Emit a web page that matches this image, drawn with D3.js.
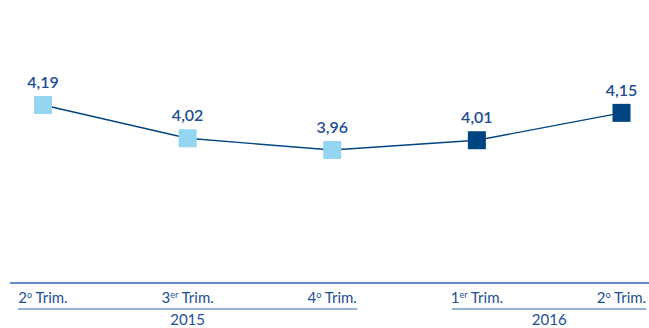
<!DOCTYPE html>
<html>
<head>
<meta charset="utf-8">
<script src="https://cdn.jsdelivr.net/npm/d3@7"></script>
<style>
  body { margin: 0; background: #fff; }
  text { font-family: Lato, "Open Sans", sans-serif; fill: #1c4f94; }
</style>
</head>
<body>
<div id="chart"></div>
<script>
// data
const quarters = ["2º Trim.", "3er Trim.", "4º Trim.", "1er Trim.", "2º Trim."];
const years = ["2015", "2015", "2015", "2016", "2016"];
const values = [4.19, 4.02, 3.96, 4.01, 4.15];
const yearGroups = [
    {year: "2015", from: 0, to: 2},
    {year: "2016", from: 3, to: 4}
];

const width = 649, height = 328;
const navy = "#004481", light = "#94d6f1";

let svg = d3.select("#chart").append("svg")
    .attr("width", width)
    .attr("height", height);

let x = d3.scalePoint()
    .domain(d3.range(values.length))
    .range([43, 621.5]);

let y = d3.scaleLinear()
    .domain([3.5, 4.5])
    .range([240, 44.4]);

let fmt = v => d3.format(".2f")(v).replace(".", ",");

// top axis rule
svg.append("line")
    .attr("x1", 10).attr("x2", width)
    .attr("y1", 283).attr("y2", 283)
    .attr("stroke", "#2a66ad").attr("stroke-width", 1.5);

// line
svg.append("path")
    .datum(values)
    .attr("fill", "none")
    .attr("stroke", navy)
    .attr("stroke-width", 1.4)
    .attr("d", d3.line().x((d, i) => x(i)).y(d => y(d)));

// markers
let s = 18;
svg.selectAll("rect.mark")
    .data(values)
    .enter().append("rect")
    .attr("class", "mark")
    .attr("x", (d, i) => x(i) - s / 2)
    .attr("y", d => y(d) - s / 2)
    .attr("width", s).attr("height", s)
    .attr("fill", (d, i) => years[i] === "2016" ? navy : light);

// value labels
svg.selectAll("text.val")
    .data(values)
    .enter().append("text")
    .attr("class", "val")
    .attr("x", (d, i) => x(i))
    .attr("y", d => y(d) - 17)
    .attr("text-anchor", "middle")
    .style("font-size", "16px")
    .style("font-weight", 600)
    .text(d => fmt(d));

// quarter labels with superscripts
svg.selectAll("text.q")
    .data(quarters)
    .enter().append("text")
    .attr("class", "q")
    .attr("x", (d, i) => x(i))
    .attr("y", 303)
    .attr("text-anchor", "middle")
    .style("font-size", "15px")
    .each(function(d) {
        let t = d3.select(this);
        let m = d.match(/^(\d)(º|er)(.*)$/);
        t.append("tspan").text(m[1]);
        t.append("tspan").attr("dy", -5).style("font-size", "9px").text(m[2] === "º" ? "o" : m[2]);
        t.append("tspan").attr("dy", 5).text(m[3]);
    });

// year group underline + labels
yearGroups.forEach(g => {
    let x0 = x(g.from) - 25, x1 = x(g.to) + 25;
    svg.append("line")
        .attr("x1", x0).attr("x2", x1)
        .attr("y1", 309).attr("y2", 309)
        .attr("stroke", "#2a66ad").attr("stroke-width", 1);
    svg.append("text")
        .attr("x", g.year === "2015" ? x(1) : (x(3) + x(4)) / 2)
        .attr("y", 325)
        .attr("text-anchor", "middle")
        .style("font-size", "15px")
        .text(g.year);
});
</script>
</body>
</html>
